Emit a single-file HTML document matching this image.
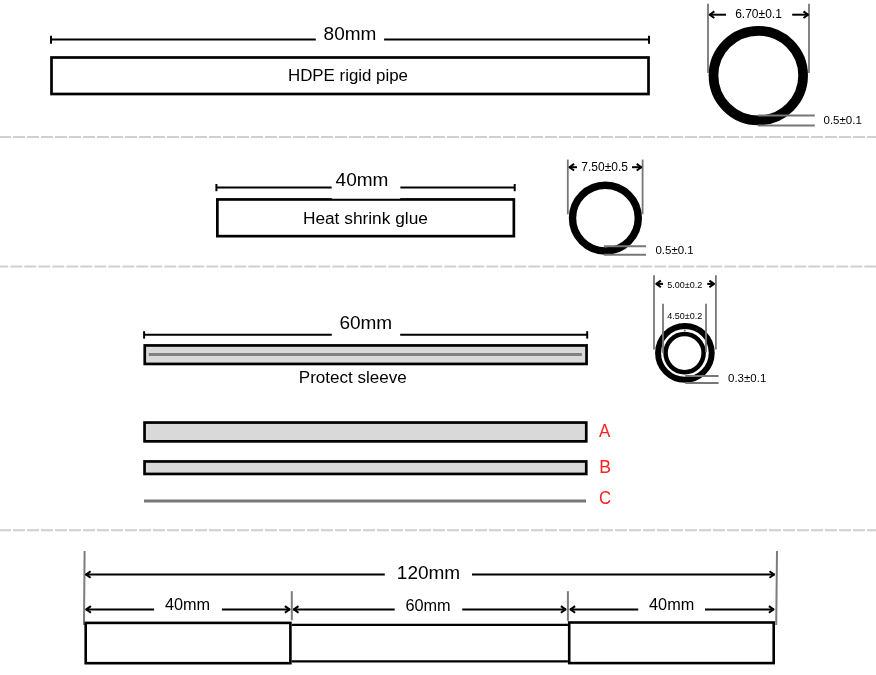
<!DOCTYPE html>
<html><head><meta charset="utf-8">
<style>
html,body{margin:0;padding:0;background:#fff;}
body{width:876px;height:675px;overflow:hidden;}
svg{display:block;will-change:transform;}
text{font-family:"Liberation Sans",sans-serif;}
</style></head>
<body>
<svg width="876" height="675" viewBox="0 0 876 675">
<rect x="0" y="0" width="876" height="675" fill="#fff"/>

<g stroke="#d0d0d0" stroke-width="2" stroke-dasharray="12 2" fill="none">
  <line x1="-1" y1="137" x2="877" y2="137"/>
  <line x1="-3.7" y1="266.5" x2="877" y2="266.5"/>
  <line x1="-1" y1="530.2" x2="877" y2="530.2"/>
</g>
<g stroke="#000" fill="none">
  <line x1="51" y1="39.5" x2="315.8" y2="39.5" stroke-width="2"/>
  <line x1="384.1" y1="39.5" x2="649" y2="39.5" stroke-width="2"/>
  <line x1="51" y1="35.8" x2="51" y2="43.7" stroke-width="2"/>
  <line x1="649" y1="35.8" x2="649" y2="43.7" stroke-width="2"/>
  <rect x="51.5" y="57.5" width="597" height="36.5" stroke-width="2.7"/>
</g>
<text x="350" y="40" font-size="19" text-anchor="middle">80mm</text>
<text x="348" y="80.5" font-size="16" text-anchor="middle" textLength="120" lengthAdjust="spacingAndGlyphs">HDPE rigid pipe</text>

<circle cx="758.3" cy="75.6" r="44.8" stroke="#000" stroke-width="9.7" fill="none"/>
<g stroke="#777" stroke-width="1.8" fill="none">
  <line x1="708" y1="3.7" x2="708" y2="73"/>
  <line x1="809" y1="3.7" x2="809" y2="73"/>
  <line x1="758" y1="115.4" x2="814.8" y2="115.4" stroke-width="2"/>
  <line x1="758" y1="125.4" x2="814.8" y2="125.4" stroke-width="2"/>
</g>
<g stroke="#000" stroke-width="2" fill="none" stroke-linejoin="round">
<line x1="709.50" y1="14.70" x2="726.00" y2="14.70"/>
<polyline points="714.30,11.40 709.70,14.70 714.30,18.00"/>
<line x1="792.20" y1="14.70" x2="808.30" y2="14.70"/>
<polyline points="803.50,11.40 808.10,14.70 803.50,18.00"/>
</g>
<text x="758.5" y="18.1" font-size="12" text-anchor="middle">6.70±0.1</text>
<text x="823.5" y="123.6" font-size="11.5">0.5±0.1</text>
<g stroke="#000" fill="none">
  <rect x="217.35" y="199.45" width="296.5" height="36.7" stroke-width="2.7"/>
  <line x1="216.4" y1="187.4" x2="331.8" y2="187.4" stroke-width="2"/>
  <line x1="400.2" y1="187.4" x2="515" y2="187.4" stroke-width="2"/>
  <line x1="216.4" y1="184" x2="216.4" y2="191.2" stroke-width="2"/>
  <line x1="514.7" y1="184" x2="514.7" y2="191.2" stroke-width="2"/>
</g>
<rect x="331.8" y="176" width="68.4" height="22.7" fill="#fff"/>
<text x="362" y="186.1" font-size="19" text-anchor="middle">40mm</text>
<text x="365.4" y="223.7" font-size="16" text-anchor="middle" textLength="125" lengthAdjust="spacingAndGlyphs">Heat shrink glue</text>

<circle cx="605.4" cy="218.1" r="32.9" stroke="#000" stroke-width="7.4" fill="none"/>
<g stroke="#777" stroke-width="1.8" fill="none">
  <line x1="567.8" y1="159.6" x2="567.8" y2="214.3"/>
  <line x1="642.6" y1="159.6" x2="642.6" y2="214.3"/>
  <line x1="603.9" y1="246.3" x2="646" y2="246.3" stroke-width="2"/>
  <line x1="603.9" y1="254.8" x2="646" y2="254.8" stroke-width="2"/>
</g>
<g stroke="#000" stroke-width="2" fill="none" stroke-linejoin="round">
<line x1="569.00" y1="167.20" x2="577.00" y2="167.20"/>
<polyline points="574.10,163.90 569.50,167.20 574.10,170.50"/>
<line x1="632.00" y1="167.20" x2="641.80" y2="167.20"/>
<polyline points="636.70,163.90 641.30,167.20 636.70,170.50"/>
</g>
<text x="604.6" y="171.1" font-size="12" text-anchor="middle">7.50±0.5</text>
<text x="655.4" y="253.8" font-size="11.5">0.5±0.1</text>
<g stroke="#000" fill="none">
  <line x1="144.1" y1="334.8" x2="331.8" y2="334.8" stroke-width="2"/>
  <line x1="400.2" y1="334.8" x2="587.2" y2="334.8" stroke-width="2"/>
  <line x1="144.1" y1="331.2" x2="144.1" y2="338.6" stroke-width="2"/>
  <line x1="587.2" y1="331.2" x2="587.2" y2="338.6" stroke-width="2"/>
  <rect x="144.75" y="345.45" width="441.8" height="18.5" fill="#d9d9d9" stroke-width="2.7"/>
  <rect x="144.55" y="422.55" width="441.7" height="18.8" fill="#d9d9d9" stroke-width="2.7"/>
  <rect x="144.55" y="461.45" width="441.7" height="12.5" fill="#d9d9d9" stroke-width="2.7"/>
</g>
<line x1="148.8" y1="354.5" x2="581.9" y2="354.5" stroke="#808080" stroke-width="2.8"/>
<line x1="144" y1="501" x2="586" y2="501" stroke="#777" stroke-width="3"/>
<text x="365.8" y="328.8" font-size="19" text-anchor="middle">60mm</text>
<text x="352.8" y="382.6" font-size="16" text-anchor="middle" textLength="108" lengthAdjust="spacingAndGlyphs">Protect sleeve</text>
<text x="599" y="436.8" font-size="19" textLength="11.3" lengthAdjust="spacingAndGlyphs" style="fill:#ff2020">A</text>
<text x="599.2" y="473" font-size="19" textLength="11.8" lengthAdjust="spacingAndGlyphs" style="fill:#ff2020">B</text>
<text x="599" y="504.1" font-size="19" textLength="12.1" lengthAdjust="spacingAndGlyphs" style="fill:#ff2020">C</text>

<circle cx="684.9" cy="352.9" r="26.8" stroke="#000" stroke-width="6" fill="none"/>
<circle cx="684.6" cy="353.1" r="19.05" stroke="#000" stroke-width="4.5" fill="none"/>
<circle cx="684.9" cy="330.4" r="0.8" fill="#444"/>
<g stroke="#777" stroke-width="1.8" fill="none">
  <line x1="654" y1="275.2" x2="654" y2="349.4"/>
  <line x1="715.9" y1="275.2" x2="715.9" y2="349.4"/>
  <line x1="663" y1="303.8" x2="663" y2="352.9"/>
  <line x1="706" y1="303.8" x2="706" y2="352.2"/>
  <line x1="685.2" y1="376" x2="718.6" y2="376" stroke-width="2"/>
  <line x1="685.2" y1="382.9" x2="718.6" y2="382.9" stroke-width="2"/>
</g>
<g stroke="#000" stroke-width="2" fill="none" stroke-linejoin="round">
<line x1="656.00" y1="283.90" x2="663.00" y2="283.90"/>
<polyline points="660.90,280.60 656.30,283.90 660.90,287.20"/>
<line x1="707.20" y1="283.90" x2="714.30" y2="283.90"/>
<polyline points="709.40,280.60 714.00,283.90 709.40,287.20"/>
</g>
<text x="684.7" y="287.9" font-size="9" text-anchor="middle">5.00±0.2</text>
<text x="684.7" y="318.6" font-size="9" text-anchor="middle">4.50±0.2</text>
<text x="728" y="381.8" font-size="11.5">0.3±0.1</text>
<g stroke="#7c7c7c" stroke-width="2" fill="none">
  <line x1="84.6" y1="551" x2="84.0" y2="625"/>
  <line x1="777" y1="551" x2="776.2" y2="625"/>
  <line x1="291.8" y1="591.2" x2="291.8" y2="620.3"/>
  <line x1="567.9" y1="591.2" x2="567.9" y2="620.8"/>
</g>
<g stroke="#000" fill="none">
  <line x1="291.7" y1="624.8" x2="567.9" y2="624.8" stroke-width="2.2"/>
  <line x1="291.7" y1="661.3" x2="567.9" y2="661.3" stroke-width="2.2"/>
  <rect x="85.7" y="622.9" width="204.7" height="40.3" stroke-width="2.6"/>
  <rect x="569.2" y="622.5" width="204.5" height="40.6" stroke-width="2.6"/>
</g>
<g stroke="#000" stroke-width="2" fill="none" stroke-linejoin="round">
<line x1="85.40" y1="574.50" x2="384.80" y2="574.50"/>
<line x1="472.00" y1="574.50" x2="774.70" y2="574.50"/>
<polyline points="90.60,571.20 86.00,574.50 90.60,577.80"/>
<polyline points="769.50,571.20 774.10,574.50 769.50,577.80"/>
<line x1="85.70" y1="609.40" x2="154.10" y2="609.40"/>
<line x1="221.90" y1="609.40" x2="290.10" y2="609.40"/>
<polyline points="90.90,606.10 86.30,609.40 90.90,612.70"/>
<polyline points="284.90,606.10 289.50,609.40 284.90,612.70"/>
<line x1="293.30" y1="609.40" x2="394.70" y2="609.40"/>
<line x1="462.20" y1="609.40" x2="566.10" y2="609.40"/>
<polyline points="298.50,606.10 293.90,609.40 298.50,612.70"/>
<polyline points="560.90,606.10 565.50,609.40 560.90,612.70"/>
<line x1="569.90" y1="609.40" x2="638.20" y2="609.40"/>
<line x1="705.00" y1="609.40" x2="774.10" y2="609.40"/>
<polyline points="575.10,606.10 570.50,609.40 575.10,612.70"/>
<polyline points="768.90,606.10 773.50,609.40 768.90,612.70"/>
</g>
<text x="428.5" y="579" font-size="19" text-anchor="middle">120mm</text>
<text x="187.5" y="610.2" font-size="16.3" text-anchor="middle">40mm</text>
<text x="428" y="610.7" font-size="16.3" text-anchor="middle">60mm</text>
<text x="671.7" y="609.5" font-size="16.3" text-anchor="middle">40mm</text>
</svg>
</body></html>
